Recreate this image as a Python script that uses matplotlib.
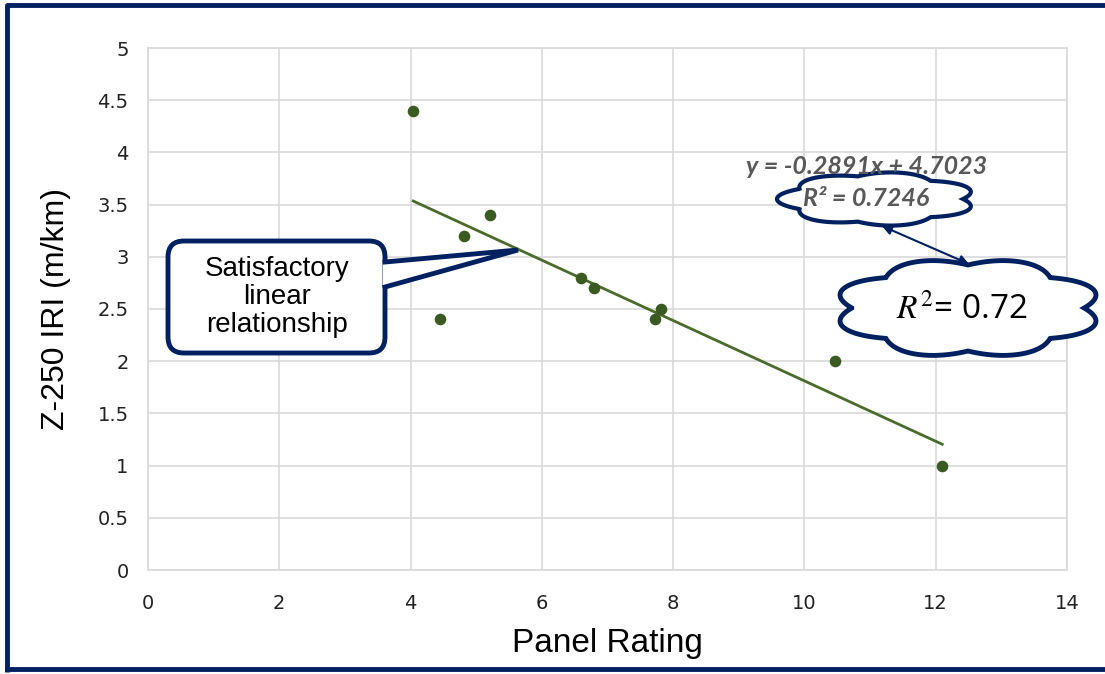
import numpy as np
import matplotlib.pyplot as plt
from matplotlib.patches import FancyBboxPatch

# data
panel_rating = [4.04, 4.45, 4.81, 5.21, 6.59, 6.80, 7.73, 7.81, 10.46, 12.10]
iri = [4.4, 2.4, 3.2, 3.4, 2.8, 2.7, 2.4, 2.5, 2.0, 1.0]
slope, intercept = -0.2891, 4.7023
x_ticks = [0, 2, 4, 6, 8, 10, 12, 14]
y_ticks = [0, 0.5, 1, 1.5, 2, 2.5, 3, 3.5, 4, 4.5, 5]

navy = '#002060'
green = '#3b5a22'

plt.rcParams['mathtext.fontset'] = 'stix'

fig = plt.figure(figsize=(11.05, 6.74), dpi=100)
ax = fig.add_axes([148/1105, 1-570/674, 919/1105, 522/674])

ax.scatter(panel_rating, iri, s=70, color=green, zorder=3, linewidths=0)
xfit = np.array([min(panel_rating), max(panel_rating)])
ax.plot(xfit, slope*xfit + intercept, color='#4b6b2c', lw=2, zorder=2)

ax.set_xlim(0, 14)
ax.set_ylim(0, 5)
ax.set_xticks(x_ticks)
ax.set_yticks(y_ticks)
ax.set_yticklabels([f'{v:g}' for v in y_ticks])
ax.grid(True, color='#d9d9d9', lw=1.2)
ax.set_axisbelow(True)
for s in ax.spines.values():
    s.set_color('#d9d9d9')
    s.set_linewidth(1.2)
ax.tick_params(axis='both', length=0, labelsize=14, colors='#222222')
ax.tick_params(axis='x', pad=17)
ax.tick_params(axis='y', pad=14)

ax.set_xlabel('Panel Rating', fontsize=24, family='Liberation Sans', va='center')
ax.xaxis.set_label_coords(0.4995, -0.14)
ax.set_ylabel('Z-250 IRI (m/km)', fontsize=23, family='Liberation Sans', va='center')
ax.yaxis.set_label_coords(-0.1, 0.5)

# overlay in pixel coordinates for the shapes
ov = fig.add_axes([0, 0, 1, 1], zorder=5)
ov.set_xlim(0, 1105)
ov.set_ylim(674, 0)
ov.axis('off')
ov.patch.set_alpha(0)

# outer frame
ov.plot([7, 7, 1110], [672, 5, 5], color=navy, lw=3.5, solid_capstyle='butt')
ov.plot([7, 1110], [669, 669], color=navy, lw=3.5)


def cloud(cx, cy, w, h, nb, lw):
    t = np.linspace(0, 2*np.pi, 1500)
    r = 0.86 + 0.14*np.abs(np.sin(nb*t/2))
    ov.fill(cx + w/2*r*np.cos(t), cy + h/2*r*np.sin(t),
            facecolor='white', edgecolor=navy, lw=lw, zorder=2)


cloud(877, 199, 200, 54, 7, 3)
cloud(968, 308, 270, 100, 8, 3.5)

ov.annotate('', xy=(882, 226), xytext=(969, 264),
            arrowprops=dict(arrowstyle='<|-|>', color=navy, lw=1.5,
                            mutation_scale=14, shrinkA=0, shrinkB=0), zorder=3)

ov.text(867, 166, 'y = -0.2891x + 4.7023', fontsize=18, fontweight='bold', style='italic',
        color='#595959', ha='center', va='center', family='Lato', zorder=4)
ov.text(866, 198, 'R² = 0.7246', fontsize=18, fontweight='bold', style='italic',
        color='#595959', ha='center', va='center', family='Lato', zorder=4)
ov.text(962, 310, r'$R^2$= 0.72', fontsize=24, color='black',
        ha='center', va='center', family='Open Sans', zorder=4)

# callout box
box = FancyBboxPatch((168, 241), 217, 112, boxstyle='round,pad=0,rounding_size=16',
                     facecolor='white', edgecolor=navy, lw=3.5, zorder=2)
ov.add_patch(box)
ov.fill([383, 518, 383], [262, 250, 287], facecolor='white', edgecolor='none', zorder=3)
ov.plot([385, 518, 385], [262, 250, 287], color=navy, lw=3.5, zorder=3, solid_joinstyle='miter')
ov.text(277, 297, 'Satisfactory\nlinear\nrelationship', fontsize=20, ha='center', va='center',
        family='Liberation Sans', linespacing=1.1, zorder=4)

fig.savefig('out.png', dpi=100)
